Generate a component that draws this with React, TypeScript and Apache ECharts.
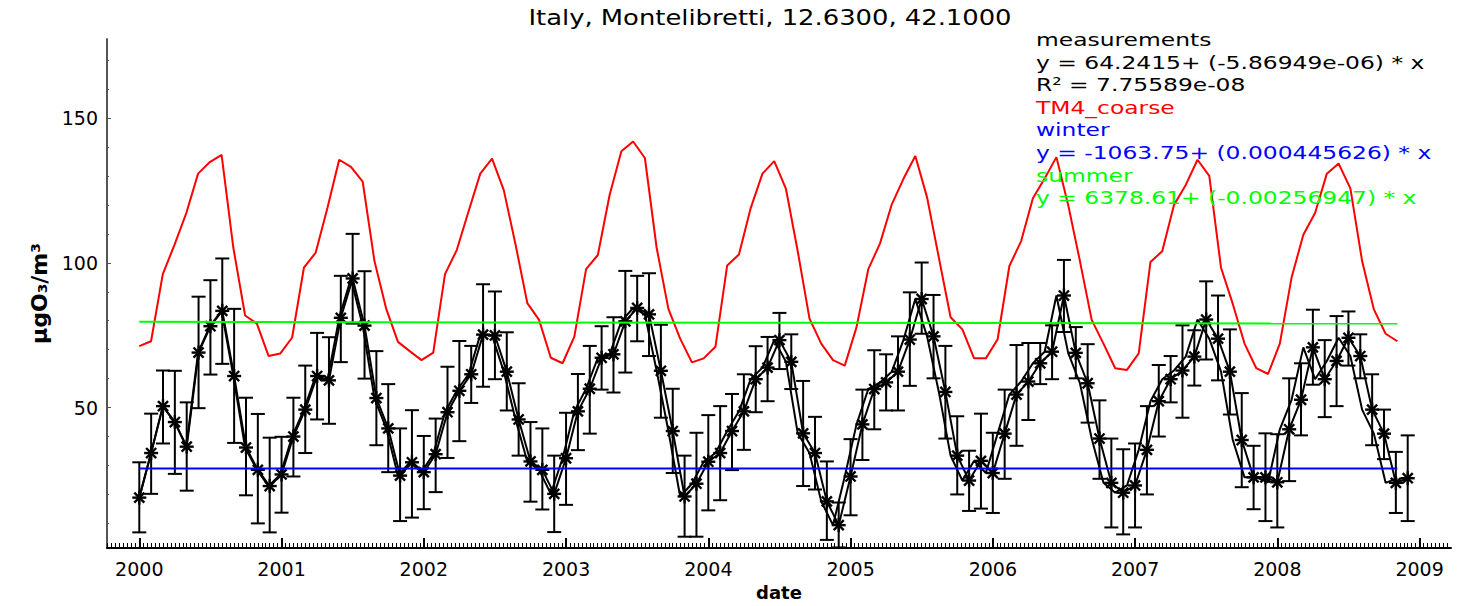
import React, { useEffect, useRef } from "react";
import * as echarts from "echarts";

const chartTitle = "Italy, Montelibretti, 12.6300, 42.1000";
const startYear = 2000;
// monthly measurements (first of each month, Jan 2000 .. Dec 2008)
const measurements = [
  18.9, 34.3, 50.5, 45.0, 36.5, 69.0, 78.1, 83.4, 60.9, 36.2, 28.5, 22.9,
  26.9, 40.0, 49.3, 60.9, 59.4, 81.0, 94.6, 78.3, 53.3, 42.8, 26.5, 31.1,
  27.7, 33.9, 48.4, 55.8, 61.5, 75.2, 74.9, 62.4, 45.9, 31.4, 28.5, 20.2,
  32.5, 48.7, 56.5, 67.2, 68.4, 79.8, 84.4, 82.2, 62.7, 41.9, 19.3, 23.7,
  31.3, 34.3, 41.9, 48.7, 59.8, 63.8, 73.3, 65.8, 41.1, 34.3, 17.6, 9.4,
  26.2, 44.2, 56.4, 58.7, 62.4, 73.5, 87.5, 74.6, 55.4, 33.4, 24.8, 31.6,
  27.4, 41.0, 54.5, 59.0, 65.3, 69.3, 88.7, 68.9, 58.4, 39.3, 24.0, 20.6,
  23.1, 35.4, 52.2, 59.8, 62.8, 67.6, 80.4, 73.8, 62.4, 38.8, 25.9, 25.9,
  24.2, 42.5, 52.7, 70.8, 59.8, 66.1, 74.1, 67.8, 49.3, 41.0, 24.0, 25.6,
];
const upperErr = [
  31.1, 47.9, 62.8, 62.7, 51.8, 88.3, 94.0, 101.5, 84.1, 53.4, 47.8, 39.6,
  39.9, 53.4, 64.5, 75.8, 74.3, 95.5, 110.0, 97.1, 69.5, 58.1, 42.8, 49.1,
  40.2, 46.2, 64.1, 73.0, 71.3, 92.6, 90.1, 76.0, 58.4, 45.0, 42.8, 33.4,
  48.2, 61.6, 71.3, 78.1, 81.2, 97.2, 95.5, 96.4, 78.6, 56.5, 33.4, 41.3,
  47.4, 50.5, 54.7, 61.5, 71.2, 74.4, 82.7, 75.3, 59.2, 46.8, 31.4, 17.2,
  39.1, 56.2, 69.8, 68.4, 74.6, 89.8, 100.1, 88.9, 71.3, 47.0, 35.1, 47.9,
  41.3, 56.2, 71.6, 72.3, 72.3, 78.4, 101.0, 77.8, 71.9, 52.5, 39.3, 35.6,
  37.6, 50.5, 64.7, 67.8, 78.4, 76.7, 93.6, 88.7, 77.0, 55.0, 36.8, 41.1,
  40.8, 60.1, 65.3, 83.8, 73.3, 81.6, 83.2, 75.3, 61.5, 49.3, 34.7, 40.4,
];
const lowerErr = [
  6.9, 20.2, 37.6, 27.1, 21.3, 49.8, 61.4, 65.1, 37.8, 19.7, 10.0, 6.9,
  13.7, 26.2, 34.3, 45.9, 44.4, 65.7, 79.0, 60.0, 37.0, 27.7, 10.8, 12.0,
  14.9, 20.8, 32.6, 38.4, 51.6, 57.2, 59.8, 49.0, 33.4, 17.5, 14.8, 7.0,
  16.4, 35.3, 41.0, 56.2, 55.2, 62.1, 72.9, 67.8, 46.5, 27.4, 5.4, 5.4,
  14.5, 18.0, 28.4, 35.4, 48.4, 52.2, 63.3, 56.4, 22.9, 21.7, 4.3, 1.7,
  12.8, 31.9, 42.5, 49.0, 49.0, 57.5, 75.5, 60.1, 39.3, 20.0, 14.3, 15.1,
  13.6, 25.4, 36.8, 45.7, 58.1, 59.8, 76.1, 60.1, 44.8, 25.4, 8.6, 6.2,
  8.6, 20.0, 40.0, 51.8, 46.5, 57.6, 66.6, 59.4, 47.6, 22.5, 14.9, 10.8,
  8.6, 24.6, 40.4, 57.9, 46.7, 50.5, 64.5, 60.1, 37.0, 32.2, 13.6, 10.8,
];
// TM4_coarse model output, one value per model step
const tm4Coarse = [
  71.2, 72.9, 96.1, 106.3, 117.2, 130.8, 134.8, 137.3, 105.2, 81.8, 79.0, 67.8,
  68.7, 74.2, 98.3, 103.5, 118.9, 135.6, 133.1, 128.0, 100.6, 84.1, 72.7, 69.5,
  66.4, 69.0, 96.1, 104.4, 117.7, 130.8, 136.0, 125.1, 106.3, 86.1, 80.3, 67.2,
  65.3, 74.5, 97.8, 102.7, 123.4, 138.5, 141.9, 136.2, 105.2, 84.1, 73.8, 65.6,
  67.0, 71.0, 99.1, 102.9, 118.9, 130.8, 135.1, 125.5, 104.0, 80.7, 72.1, 66.4,
  64.5, 77.8, 97.8, 106.7, 120.2, 129.1, 136.9, 122.6, 101.8, 81.2, 77.0, 67.0,
  67.0, 73.6, 98.9, 107.5, 122.3, 129.1, 136.5, 120.0, 100.6, 80.3, 72.1, 63.6,
  63.0, 68.7, 100.3, 104.0, 120.0, 126.9, 135.6, 130.0, 98.3, 85.8, 72.1, 63.6,
  61.6, 72.1, 94.9, 109.7, 117.2, 130.8, 134.3, 125.7, 100.6, 83.9, 75.5, 72.9,
];
const modelStepDays = 30.19;
const winterFit = [29.0, 29.0];
const summerFit = [79.6, 79.0];
const yearTicks = [2000, 2001, 2002, 2003, 2004, 2005, 2006, 2007, 2008, 2009];
const yMajorTicks = [50, 100, 150];
const yMinorTicks = [10, 20, 30, 40, 50, 60, 70, 80, 90, 100, 110, 120, 130, 140, 150, 160, 170];
const legendLines = [
  { text: "measurements", color: "#000000" },
  { text: "y = 64.2415+ (-5.86949e-06) * x", color: "#000000" },
  { text: "R² = 7.75589e-08", color: "#000000" },
  { text: "TM4_coarse", color: "#ff0000" },
  { text: "winter", color: "#0000ff" },
  { text: "y = -1063.75+ (0.000445626) * x", color: "#0000ff" },
  { text: "summer", color: "#00ff00" },
  { text: "y = 6378.61+ (-0.00256947) * x", color: "#00ff00" },
];

const monthX = (i: number) => startYear + i / 12;
const modelX = (k: number) => startYear + (k * modelStepDays) / 365.25;

const X_MIN = 1999.773;
const X_MAX = 2009.221;
const Y_MIN = 1.5;
const Y_MAX = 177.3;
const FONT = "DejaVu Sans";

export default function App() {
  const ref = useRef<HTMLDivElement>(null);
  useEffect(() => {
    if (!ref.current) return;
    const chart = echarts.init(ref.current, undefined, { renderer: "svg" });
    const minorX: number[] = [];
    for (let y = 1999; y <= 2009; y++) {
      for (let j = 1; j < 36; j++) {
        const v = y + j / 36;
        if (v > X_MIN && v < X_MAX) minorX.push(v);
      }
    }
    const lastModel = tm4Coarse.length - 1;
    const option: any = {
      animation: false,
      backgroundColor: "#ffffff",
      grid: { left: 107, right: 9, top: 39, bottom: 53, containLabel: false },
      xAxis: [
        {
          type: "value",
          min: X_MIN,
          max: X_MAX,
          name: "date",
          nameLocation: "middle",
          nameGap: 35,
          nameTextStyle: { fontFamily: FONT, fontSize: 18, fontWeight: "bold", color: "#000" },
          axisLine: { show: true, lineStyle: { color: "#000", width: 2 } },
          axisTick: { show: true, inside: true, length: 10, customValues: yearTicks, lineStyle: { color: "#000", width: 2 } },
          axisLabel: {
            show: true,
            customValues: yearTicks,
            formatter: (v: number) => String(Math.round(v)),
            fontFamily: FONT,
            fontSize: 19,
            color: "#000",
            margin: 11,
          },
          splitLine: { show: false },
        },
        {
          type: "value",
          min: X_MIN,
          max: X_MAX,
          position: "bottom",
          axisLine: { show: false },
          axisTick: { show: true, inside: true, length: 5, customValues: minorX, lineStyle: { color: "#000", width: 1 } },
          axisLabel: { show: false },
          splitLine: { show: false },
        },
      ],
      yAxis: [
        {
          type: "value",
          min: Y_MIN,
          max: Y_MAX,
          name: "μgO₃/m³",
          nameLocation: "middle",
          nameRotate: 90,
          nameGap: 55,
          nameTextStyle: { fontFamily: FONT, fontSize: 22, fontWeight: "bold", color: "#000" },
          axisLine: { show: true, lineStyle: { color: "#555", width: 2 } },
          axisTick: { show: true, inside: true, length: 4, customValues: yMajorTicks, lineStyle: { color: "#555", width: 1 } },
          axisLabel: { show: true, customValues: yMajorTicks, fontFamily: FONT, fontSize: 19, color: "#000", margin: 9 },
          splitLine: { show: false },
        },
        {
          type: "value",
          min: Y_MIN,
          max: Y_MAX,
          position: "left",
          axisLine: { show: false },
          axisTick: { show: true, inside: true, length: 2, customValues: yMinorTicks, lineStyle: { color: "#555", width: 1 } },
          axisLabel: { show: false },
          splitLine: { show: false },
        },
      ],
      series: [
        {
          name: "measurements (model dates)",
          type: "line",
          xAxisIndex: 0,
          yAxisIndex: 0,
          showSymbol: false,
          lineStyle: { color: "#000", width: 2 },
          data: measurements.map((v, k) => [modelX(k), v]),
          z: 2,
        },
        {
          name: "measurements",
          type: "line",
          xAxisIndex: 0,
          yAxisIndex: 0,
          showSymbol: false,
          lineStyle: { color: "#000", width: 2 },
          data: measurements.map((v, i) => [monthX(i), v]),
          z: 2,
        },
        {
          name: "measurements error",
          type: "custom",
          xAxisIndex: 0,
          yAxisIndex: 0,
          data: measurements.map((v, i) => [monthX(i), v, lowerErr[i], upperErr[i]]),
          encode: { x: 0, y: 1 },
          z: 3,
          renderItem: (_p: any, api: any) => {
            const x = api.value(0);
            const c = api.coord([x, api.value(1)]);
            const lo = api.coord([x, api.value(2)]);
            const hi = api.coord([x, api.value(3)]);
            const st = { stroke: "#000", lineWidth: 2 };
            const sst = { stroke: "#000", lineWidth: 2.4 };
            const cw = 7;
            const s = 7;
            const d = s * 0.72;
            return {
              type: "group",
              children: [
                { type: "line", shape: { x1: lo[0], y1: lo[1], x2: hi[0], y2: hi[1] }, style: st },
                { type: "line", shape: { x1: lo[0] - cw, y1: lo[1], x2: lo[0] + cw, y2: lo[1] }, style: st },
                { type: "line", shape: { x1: hi[0] - cw, y1: hi[1], x2: hi[0] + cw, y2: hi[1] }, style: st },
                { type: "line", shape: { x1: c[0] - s, y1: c[1], x2: c[0] + s, y2: c[1] }, style: sst },
                { type: "line", shape: { x1: c[0], y1: c[1] - s, x2: c[0], y2: c[1] + s }, style: sst },
                { type: "line", shape: { x1: c[0] - d, y1: c[1] - d, x2: c[0] + d, y2: c[1] + d }, style: sst },
                { type: "line", shape: { x1: c[0] - d, y1: c[1] + d, x2: c[0] + d, y2: c[1] - d }, style: sst },
              ],
            };
          },
        },
        {
          name: "TM4_coarse",
          type: "line",
          showSymbol: false,
          lineStyle: { color: "#ff0000", width: 2 },
          data: tm4Coarse.map((v, k) => [modelX(k), v]),
          z: 4,
        },
        {
          name: "winter",
          type: "line",
          showSymbol: false,
          lineStyle: { color: "#0000ff", width: 2 },
          data: [[modelX(0), winterFit[0]], [modelX(lastModel), winterFit[1]]],
          z: 5,
        },
        {
          name: "summer",
          type: "line",
          showSymbol: false,
          lineStyle: { color: "#00ff00", width: 2 },
          data: [[modelX(0), summerFit[0]], [modelX(lastModel), summerFit[1]]],
          z: 5,
        },
      ],
      graphic: [
        {
          type: "text",
          x: 770,
          y: 18,
          scaleX: 1.23,
          z: 10,
          style: {
            text: chartTitle,
            fill: "#000",
            font: `21px "${FONT}"`,
            textAlign: "center",
            textVerticalAlign: "middle",
          },
        },
        ...legendLines.map((l, idx) => ({
          type: "text",
          x: 1036,
          y: 40 + idx * 22.6,
          scaleX: 1.3,
          z: 10,
          style: {
            text: l.text,
            fill: l.color,
            font: `18px "${FONT}"`,
            textAlign: "left",
            textVerticalAlign: "middle",
          },
        })),
      ],
    };
    chart.setOption(option);
    return () => chart.dispose();
  }, []);
  return (
    <div
      ref={ref}
      style={{ position: "fixed", left: 0, top: 0, width: 1460, height: 606, background: "#fff" }}
    />
  );
}
